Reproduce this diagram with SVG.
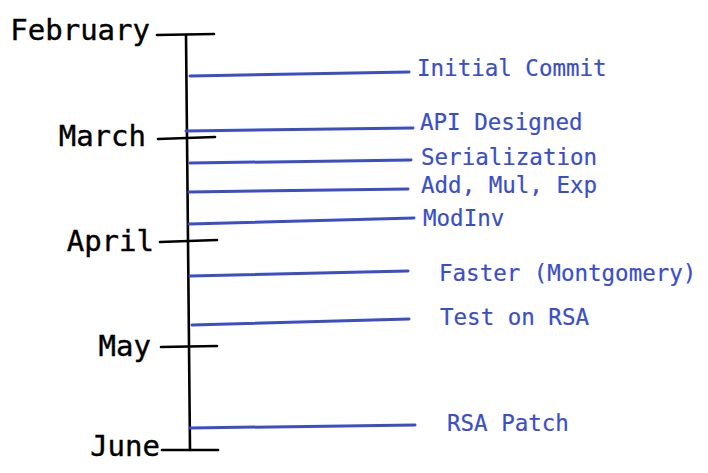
<svg xmlns="http://www.w3.org/2000/svg" width="708" height="473" viewBox="0 0 708 473">
<style>
.month{font-family:"DejaVu Sans Mono","Liberation Mono",monospace;font-size:29px;fill:#000;stroke:#000;stroke-width:0.4;text-anchor:end}
.ev{font-family:"DejaVu Sans Mono","Liberation Mono",monospace;font-size:22.5px;fill:#3a4ec8;stroke:#3a4ec8;stroke-width:0.2}
.axis{stroke:#000;stroke-width:2.6;stroke-linecap:round;fill:none}
.link{stroke:#3a4ec8;stroke-width:3;stroke-linecap:round;fill:none}
</style>
<rect width="708" height="473" fill="#fff"/>
<g id="timeline">
<path class="axis" d="M186,35 L188,240 L190,450"/>
</g>
<g id="feb"><path class="axis" d="M157,35 L214,34"/><text class="month" x="150" y="40">February</text></g>
<g id="mar"><path class="axis" d="M158,139 L215,137"/><text class="month" x="146" y="146">March</text></g>
<g id="apr"><path class="axis" d="M160,242 L217,240"/><text class="month" x="154" y="251">April</text></g>
<g id="may"><path class="axis" d="M161,347 L217,346"/><text class="month" x="151" y="356">May</text></g>
<g id="jun"><path class="axis" d="M162,450 L218,450"/><text class="month" x="160" y="456">June</text></g>
<g id="connectors">
<path class="link" d="M190,76 L409,72"/>
<path class="link" d="M186,131 L413,128"/>
<path class="link" d="M190,163 L411,160"/>
<path class="link" d="M189,192 L408,189"/>
<path class="link" d="M189,224 L414,218"/>
<path class="link" d="M190,276 L408,271"/>
<path class="link" d="M192,325 L409,319"/>
<path class="link" d="M190,428 L415,425"/>
</g>
<g id="e1"><text class="ev" x="417" y="76">Initial Commit</text></g>
<g id="e2"><text class="ev" x="420" y="130">API Designed</text></g>
<g id="e3"><text class="ev" x="421" y="165">Serialization</text></g>
<g id="e4"><text class="ev" x="421" y="193">Add, Mul, Exp</text></g>
<g id="e5"><text class="ev" x="423" y="226">ModInv</text></g>
<g id="e6"><text class="ev" x="439" y="281">Faster (Montgomery)</text></g>
<g id="e7"><text class="ev" x="440" y="325">Test on RSA</text></g>
<g id="e8"><text class="ev" x="447" y="431">RSA Patch</text></g>
</svg>
